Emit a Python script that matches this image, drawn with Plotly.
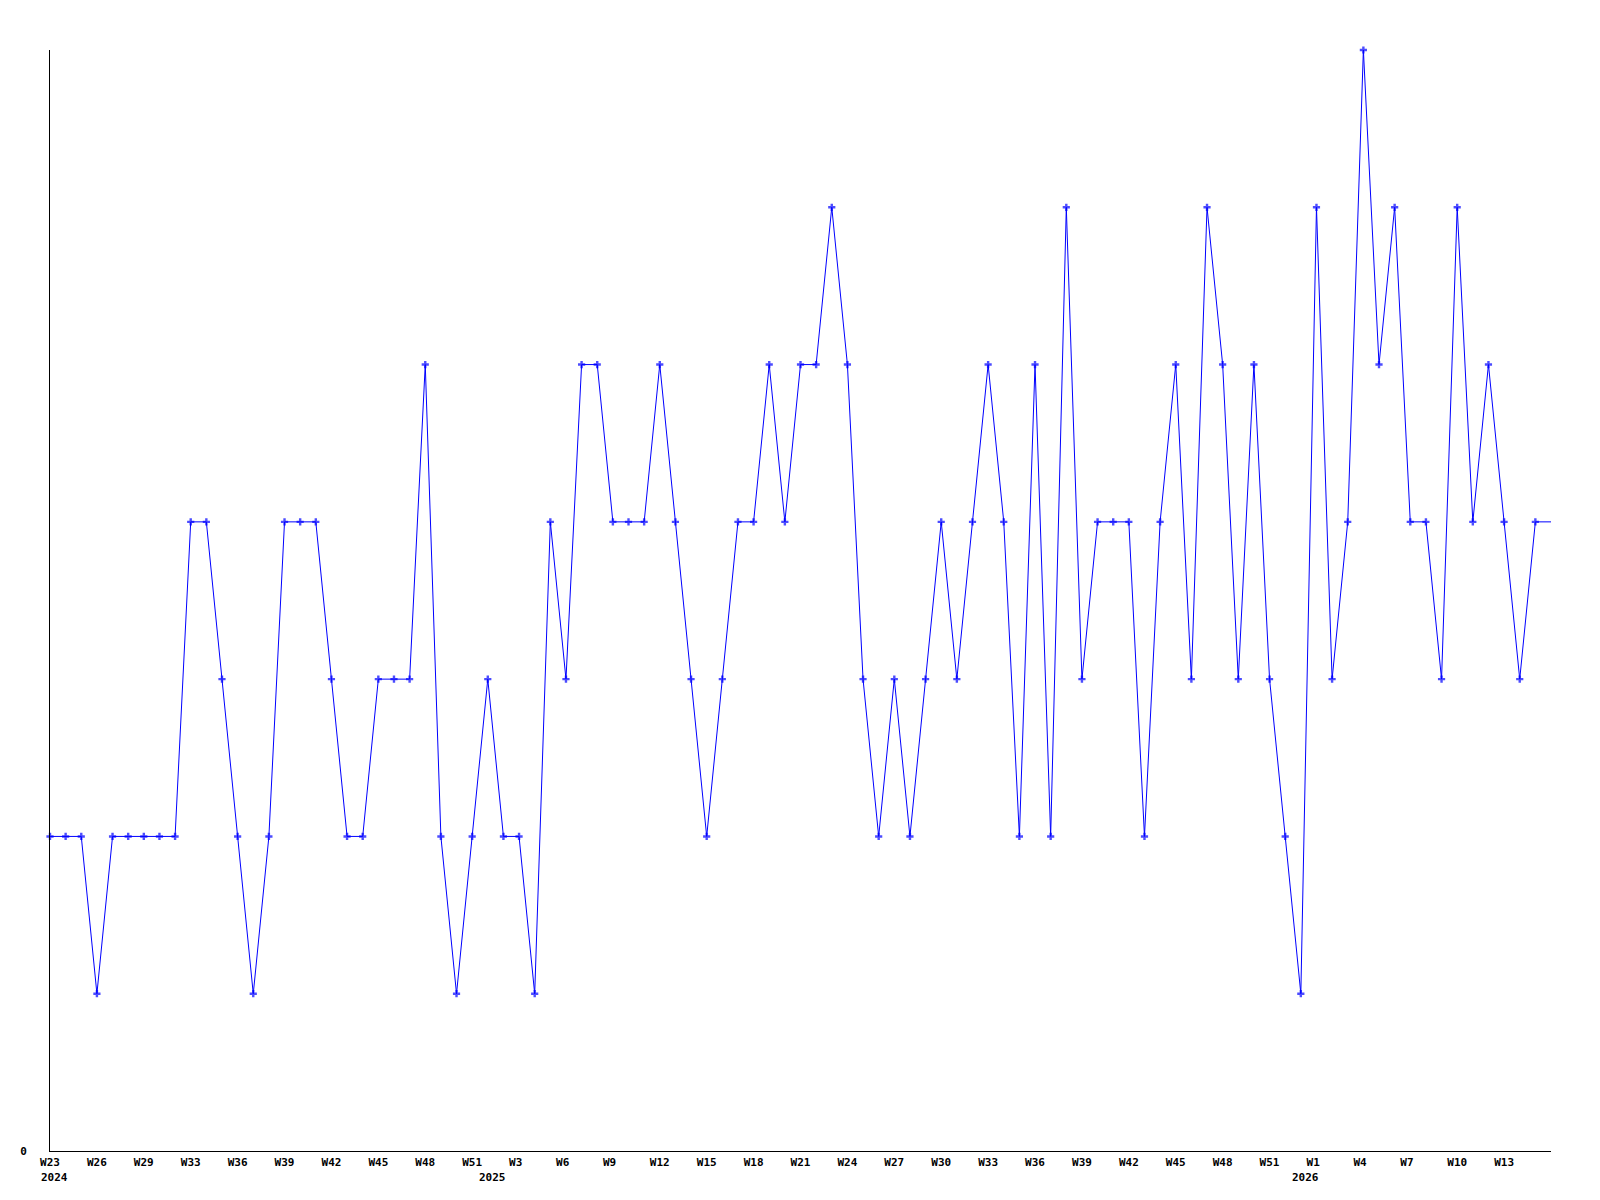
import plotly.graph_objects as go

# Weekly counts, 2024 W23 .. 2026 (97 weeks)
values = [2, 2, 2, 1, 2, 2, 2, 2, 2, 4,
          4, 3, 2, 1, 2, 4, 4, 4, 3, 2,
          2, 3, 3, 3, 5, 2, 1, 2, 3, 2,
          2, 1, 4, 3, 5, 5, 4, 4, 4, 5,
          4, 3, 2, 3, 4, 4, 5, 4, 5, 5,
          6, 5, 3, 2, 3, 2, 3, 4, 3, 4,
          5, 4, 2, 5, 2, 6, 3, 4, 4, 4,
          2, 4, 5, 3, 6, 5, 3, 5, 3, 2,
          1, 6, 3, 4, 7, 5, 6, 4, 4, 3,
          6, 4, 5, 4, 3, 4, 4]

tick_labels = ["W23", "W26", "W29", "W33", "W36", "W39", "W42", "W45", "W48", "W51",
               "W3", "W6", "W9", "W12", "W15", "W18", "W21", "W24", "W27", "W30",
               "W33", "W36", "W39", "W42", "W45", "W48", "W51", "W1", "W4", "W7",
               "W10", "W13"]
tick_step = 3

year_labels = ["2024", "2025", "2026"]
year_start_week = [0, 28, 80]

x = list(range(len(values)))
tickvals = list(range(0, len(values), tick_step))[:len(tick_labels)]
ticktext = [t if len(t) >= 3 else t + "\u00a0" for t in tick_labels]

marker_sizes = [6] * (len(values) - 1) + [0]

font = dict(family="DejaVu Sans Mono", size=11, color="black", weight="bold")

fig = go.Figure()
fig.add_trace(go.Scatter(
    x=x, y=values, mode="lines+markers",
    line=dict(color="#0000ff", width=1),
    marker=dict(symbol="cross", size=marker_sizes, color="#0000ff", line=dict(width=0)),
    showlegend=False, hoverinfo="x+y", cliponaxis=False,
))

for lab, xi in zip(year_labels, year_start_week):
    fig.add_annotation(x=xi, y=0, xref="x", yref="paper", text=lab, showarrow=False,
                       xanchor="left", yanchor="top", xshift=-11, yshift=-18,
                       font=font)

fig.update_layout(
    width=1600, height=1200,
    margin=dict(l=42, r=57, t=42, b=57, autoexpand=False),
    paper_bgcolor="white", plot_bgcolor="white",
    font=font,
    xaxis=dict(range=[0, len(values) - 1], tickvals=tickvals, ticktext=ticktext,
               showgrid=False, zeroline=False, showline=True, linecolor="black",
               linewidth=1, ticks="", tickfont=font, ticklabelstandoff=1,
               automargin=False),
    yaxis=dict(range=[0, max(values)], tickvals=[0], ticktext=["0"],
               showgrid=False, zeroline=False, showline=True, linecolor="black",
               linewidth=1, ticks="", tickfont=font, ticklabelstandoff=20,
               automargin=False),
)

fig.write_html("out.html")
